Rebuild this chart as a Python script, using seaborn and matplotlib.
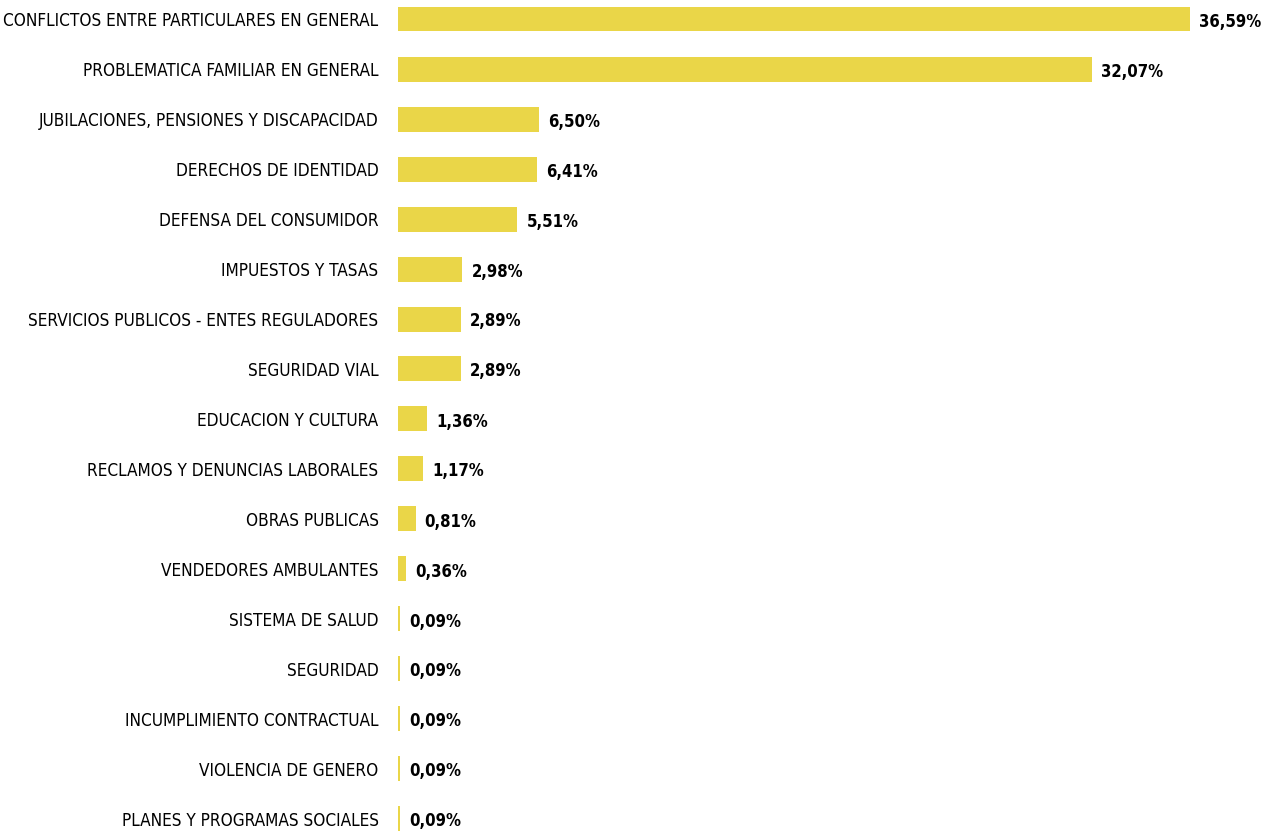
import matplotlib
matplotlib.use('Agg')
import matplotlib.pyplot as plt
import seaborn as sns
import pandas as pd

# Categories and shares (%)
categorias = [
    'CONFLICTOS ENTRE PARTICULARES EN GENERAL',
    'PROBLEMATICA FAMILIAR EN GENERAL',
    'JUBILACIONES, PENSIONES Y DISCAPACIDAD',
    'DERECHOS DE IDENTIDAD',
    'DEFENSA DEL CONSUMIDOR',
    'IMPUESTOS Y TASAS',
    'SERVICIOS PUBLICOS - ENTES REGULADORES',
    'SEGURIDAD VIAL',
    'EDUCACION Y CULTURA',
    'RECLAMOS Y DENUNCIAS LABORALES',
    'OBRAS PUBLICAS',
    'VENDEDORES AMBULANTES',
    'SISTEMA DE SALUD',
    'SEGURIDAD',
    'INCUMPLIMIENTO CONTRACTUAL',
    'VIOLENCIA DE GENERO',
    'PLANES Y PROGRAMAS SOCIALES',
]
porcentajes = [36.59, 32.07, 6.50, 6.41, 5.51, 2.98, 2.89, 2.89, 1.36, 1.17,
               0.81, 0.36, 0.09, 0.09, 0.09, 0.09, 0.09]

df = pd.DataFrame({'categoria': categorias, 'pct': porcentajes})

sns.set_style('white')
plt.rcParams['font.family'] = ['DejaVu Sans']
plt.rcParams['font.stretch'] = 'condensed'
plt.rcParams['text.color'] = 'black'
plt.rcParams['ytick.color'] = 'black'

fig = plt.figure(figsize=(12.7, 8.32), dpi=100)
ax = fig.add_axes([0.3134, 0.0, 0.6866, 1.0])

sns.barplot(data=df, x='pct', y='categoria', color='#EAD648', saturation=1,
            width=0.5, ax=ax, orient='h', linewidth=0)

ax.set_xlim(0, 40.3)
ax.set_ylim(16.26, -0.38)

# Value labels next to each bar
for i, v in enumerate(porcentajes):
    ax.text(v + 0.42, i + 0.05, f'{v:.2f}%'.replace('.', ','), va='center', ha='left',
            fontsize=12, fontweight='bold', color='black')

ax.set_xlabel('')
ax.set_ylabel('')
ax.set_xticks([])
ax.tick_params(axis='y', length=0, pad=14, labelsize=12.3)
for s in ax.spines.values():
    s.set_visible(False)

plt.savefig('out.png', dpi=100)
